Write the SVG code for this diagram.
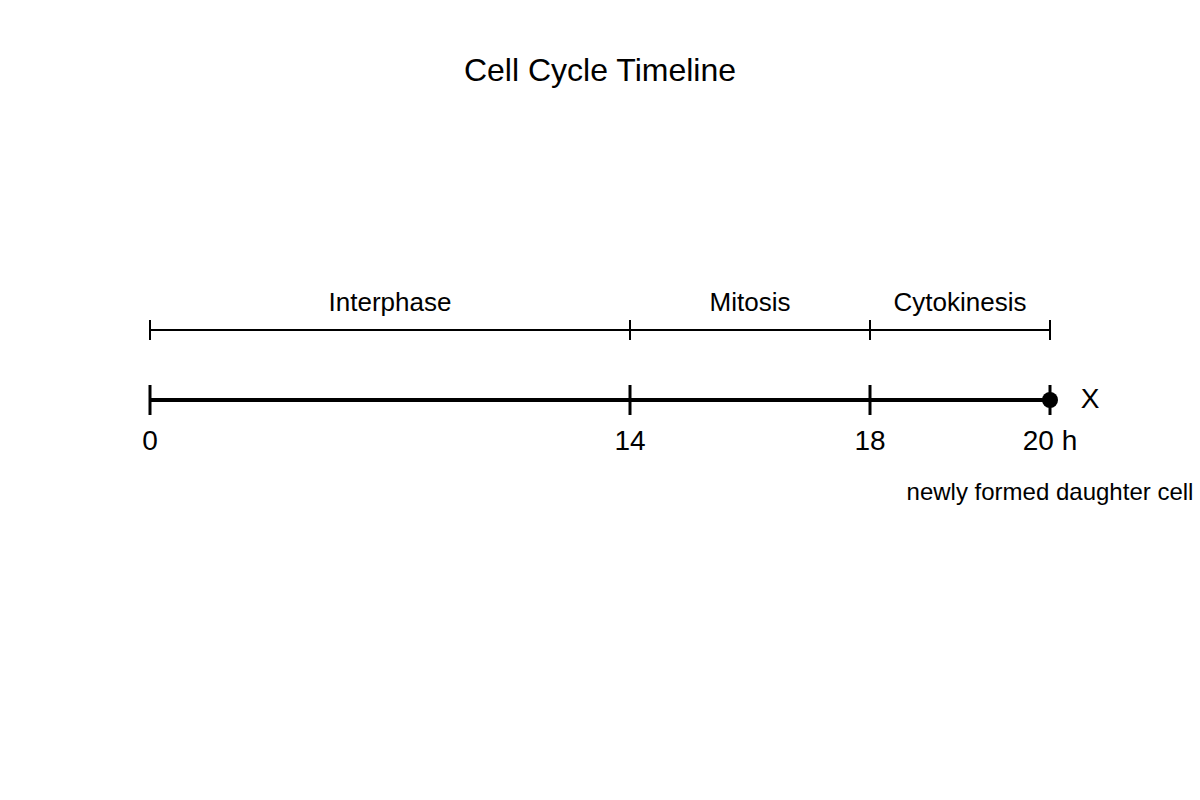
<svg xmlns="http://www.w3.org/2000/svg" width="1200" height="800" viewBox="0 0 1200 800">
<style>
text{font-family:"Liberation Sans",Arial,sans-serif;fill:#000;text-anchor:middle}
.title{font-size:32px}
.phase{font-size:26px}
.num{font-size:28px}
.note{font-size:24px}
.thin{stroke:#000;stroke-width:2;fill:none}
.thick{stroke:#000;stroke-width:4;fill:none}
</style>
<rect width="1200" height="800" fill="#fff"/>
<text class="title" x="600" y="81">Cell Cycle Timeline</text>
<g id="connectors">
<line class="thin" x1="150" y1="330" x2="1050" y2="330"/>
<line class="thin" x1="150" y1="320" x2="150" y2="340"/>
<line class="thin" x1="630" y1="320" x2="630" y2="340"/>
<line class="thin" x1="870" y1="320" x2="870" y2="340"/>
<line class="thin" x1="1050" y1="320" x2="1050" y2="340"/>
<line class="thick" x1="150" y1="400" x2="1050" y2="400"/>
<line class="thin" x1="150" y1="385" x2="150" y2="415" style="stroke-width:3"/>
<line class="thin" x1="630" y1="385" x2="630" y2="415" style="stroke-width:3"/>
<line class="thin" x1="870" y1="385" x2="870" y2="415" style="stroke-width:3"/>
<line class="thin" x1="1050" y1="385" x2="1050" y2="415" style="stroke-width:3"/>
</g>
<g id="interphase"><text class="phase" x="390" y="311">Interphase</text></g>
<g id="mitosis"><text class="phase" x="750" y="311">Mitosis</text></g>
<g id="cytokinesis"><text class="phase" x="960" y="311">Cytokinesis</text></g>
<g id="t0"><text class="num" x="150" y="450">0</text></g>
<g id="t14"><text class="num" x="630" y="450">14</text></g>
<g id="t18"><text class="num" x="870" y="450">18</text></g>
<g id="t20"><text class="num" x="1050" y="450">20 h</text></g>
<g id="x-point">
<circle cx="1050" cy="400" r="8" fill="#000"/>
<text class="num" x="1090" y="408">X</text>
</g>
<g id="daughter"><text class="note" x="1050" y="500">newly formed daughter cell</text></g>
</svg>
